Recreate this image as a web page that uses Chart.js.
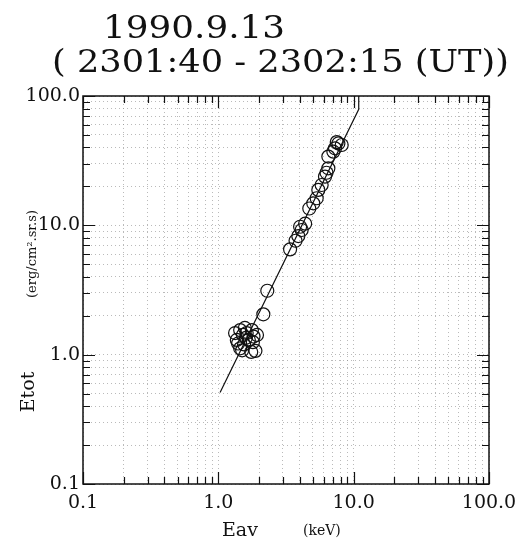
<!DOCTYPE html>
<html>
<head>
<meta charset="utf-8">
<script src="https://cdn.jsdelivr.net/npm/chart.js@4.4.1/dist/chart.umd.min.js"></script>
<style>
html,body{margin:0;padding:0;background:#fff;}
#wrap{width:528px;height:542px;}
</style>
</head>
<body>
<div id="wrap"><canvas id="c" width="528" height="542"></canvas></div>
<script>
// ---- data ----
const titleLine1 = "1990.9.13";
const titleLine2 = "( 2301:40 - 2302:15 (UT))";
const xTitle = "Eav";
const xUnit = "(keV)";
const yTitle = "Etot";
const yUnit = "(erg/cm\u00B2.sr.s)";

const eav  = [1.33,1.37,1.45,1.52,1.57,1.45,1.62,1.77,1.80,1.93,1.88,1.40,1.50,1.68,1.75,1.55,1.60,1.82,
              2.15,2.30,3.39,3.72,3.90,4.02,4.13,4.38,4.70,5.03,5.33,5.48,5.80,6.14,6.30,6.50,6.50,7.08,7.28,7.71,8.16,7.50];
const etot = [1.47,1.30,1.55,1.42,1.61,1.12,1.47,1.55,1.25,1.42,1.07,1.22,1.08,1.30,1.05,1.20,1.35,1.38,
              2.05,3.12,6.52,7.60,8.26,9.75,9.20,10.3,13.5,14.8,16.2,18.8,20.5,23.8,25.5,27.6,34.0,37.1,39.4,43.0,41.8,44.0];

const fitEav  = [1.03, 10.9, 10.9];
const fitEtot = [0.51, 79, 100];

const tickValues = [0.1,0.2,0.3,0.4,0.5,0.6,0.7,0.8,0.9,1,2,3,4,5,6,7,8,9,10,20,30,40,50,60,70,80,90,100];
const majorLabels = {"0.1":"0.1","1":"1.0","10":"10.0","100":"100.0"};

// ---- build ----
const pts = eav.map((x,i)=>({x:x,y:etot[i]}));
const fit = fitEav.map((x,i)=>({x:x,y:fitEtot[i]}));

function isMajor(v){ return majorLabels[String(+v.toPrecision(6))] !== undefined; }
function lbl(v){ const k = String(+Number(v).toPrecision(6)); return majorLabels[k] || ''; }

const frame = {
  id:'frame',
  afterDraw(chart){
    const ctx = chart.ctx, a = chart.chartArea;
    const xs = chart.scales.x, ys = chart.scales.y;
    ctx.save();
    ctx.strokeStyle = '#111';
    ctx.lineWidth = 1.5;
    ctx.setLineDash([]);
    ctx.strokeRect(a.left, a.top, a.right-a.left, a.bottom-a.top);
    ctx.lineWidth = 1.2;
    ctx.beginPath();
    tickValues.forEach(v=>{
      const L = isMajor(v) ? 12 : 7;
      const px = Math.round(xs.getPixelForValue(v))+0.5;
      ctx.moveTo(px, a.bottom); ctx.lineTo(px, a.bottom-L);
      ctx.moveTo(px, a.top); ctx.lineTo(px, a.top+L);
      const py = Math.round(ys.getPixelForValue(v))+0.5;
      ctx.moveTo(a.left, py); ctx.lineTo(a.left+L, py);
      ctx.moveTo(a.right, py); ctx.lineTo(a.right-L, py);
    });
    ctx.stroke();

    // titles
    ctx.fillStyle = '#111';
    ctx.textBaseline = 'alphabetic';
    function stretched(text, font, x0, width, base){
      ctx.font = font;
      const w = ctx.measureText(text).width;
      ctx.save();
      ctx.translate(x0, base);
      ctx.scale(width / w, 1);
      ctx.textAlign = 'left';
      ctx.fillText(text, 0, 0);
      ctx.restore();
    }
    stretched(titleLine1, '32px "DejaVu Serif"', 103, 182, 38);
    stretched(titleLine2, '32px "DejaVu Serif"', 52, 457, 72);

    ctx.textAlign = 'left';
    ctx.font = '19px "DejaVu Serif"';
    ctx.fillText(xTitle, 222, 536);
    ctx.font = '14px "DejaVu Serif"';
    ctx.fillText(xUnit, 303, 535);

    ctx.save();
    ctx.translate(34, 392);
    ctx.rotate(-Math.PI/2);
    ctx.textAlign = 'center';
    ctx.font = '19px "DejaVu Serif"';
    ctx.fillText(yTitle, 0, 0);
    ctx.restore();

    ctx.save();
    ctx.translate(36, 254);
    ctx.rotate(-Math.PI/2);
    ctx.textAlign = 'center';
    ctx.font = '13px "DejaVu Serif"';
    ctx.fillText(yUnit, 0, 0);
    ctx.restore();
    ctx.restore();
  }
};

const gridOpts = { color:'rgba(140,140,140,0.6)', lineWidth:1, drawTicks:false, tickLength:0 };

new Chart(document.getElementById('c'), {
  type:'scatter',
  data:{
    datasets:[
      { label:'fit', data:fit, type:'line', showLine:true, borderColor:'#111', borderWidth:1.2,
        pointRadius:0, fill:false, tension:0, order:1 },
      { label:'data', data:pts, showLine:false, pointRadius:6.5, pointHoverRadius:6.5,
        pointBorderColor:'#111', pointBorderWidth:1.2, pointBackgroundColor:'rgba(0,0,0,0)', order:0 }
    ]
  },
  options:{
    responsive:false,
    animation:false,
    events:[],
    layout:{ padding:{ top:96, right:39, left:0, bottom:0 } },
    plugins:{ legend:{display:false}, tooltip:{enabled:false}, title:{display:false} },
    scales:{
      x:{
        type:'logarithmic', min:0.1, max:100,
        grid: gridOpts,
        border:{ display:false, dash:[1,3] },
        afterBuildTicks(s){ s.ticks = tickValues.map(v=>({value:v})); },
        afterFit(s){ s.height = 58; },
        ticks:{ autoSkip:false, maxRotation:0, minRotation:0, padding:8, color:'#111',
          font:{ family:'"DejaVu Serif"', size:19 }, callback:(v)=>lbl(v) }
      },
      y:{
        type:'logarithmic', min:0.1, max:100,
        grid: gridOpts,
        border:{ display:false, dash:[1,3] },
        afterBuildTicks(s){ s.ticks = tickValues.map(v=>({value:v})); },
        afterFit(s){ s.width = 83; },
        ticks:{ autoSkip:false, padding:3, color:'#111',
          font:{ family:'"DejaVu Serif"', size:19 }, callback:(v)=>lbl(v) }
      }
    }
  },
  plugins:[frame]
});
</script>
</body>
</html>
